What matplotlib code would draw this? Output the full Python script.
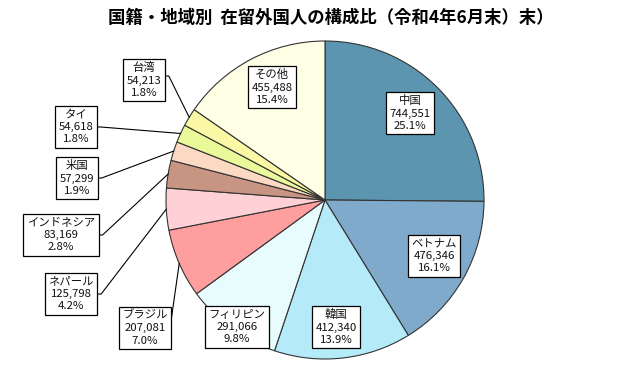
import numpy as np
import matplotlib
matplotlib.use('Agg')
import matplotlib.pyplot as plt

plt.rcParams['font.family'] = ['Noto Sans CJK JP', 'DejaVu Sans']

# data (clockwise from 12 o'clock)
names = ['中国', 'ベトナム', '韓国', 'フィリピン', 'ブラジル', 'ネパール',
         'インドネシア', '米国', 'タイ', '台湾', 'その他']
values = [744551, 476346, 412340, 291066, 207081, 125798,
          83169, 57299, 54618, 54213, 455488]
shares = ['25.1%', '16.1%', '13.9%', '9.8%', '7.0%', '4.2%',
          '2.8%', '1.9%', '1.8%', '1.8%', '15.4%']
colors = ['#5B95B0', '#80AACB', '#B5EAF9', '#E8FBFD', '#FF9E9E', '#FFD1D6',
          '#C99583', '#FCD9C3', '#EAF99A', '#FAF8A4', '#FFFFE6']

# label box centers in pixel coords (from top-left), and whether a leader is drawn
label_pos = [(410, 113), (434, 256), (336, 327), (237, 327), (145, 328), (71, 294),
             (61, 235), (77, 178), (76, 127), (144, 80), (272, 87)]
leader = [False, False, False, False, True, True, True, True, True, True, False]

W, H = 629, 378
fig = plt.figure(figsize=(W / 100, H / 100), dpi=100)
ax = fig.add_axes([0, 0, 1, 1])

cx, cy, r = 325, H - 200, 159
wedges, _ = ax.pie(values, colors=colors, startangle=90, counterclock=False,
                   center=(cx, cy), radius=r, frame=True,
                   wedgeprops=dict(edgecolor='#333333', linewidth=0.8))
ax.set_xlim(0, W)
ax.set_ylim(0, H)
ax.set_aspect('equal')
ax.axis('off')

for i, w in enumerate(wedges):
    lx, ly = label_pos[i][0], H - label_pos[i][1]
    txt = f'{names[i]}\n{values[i]:,}\n{shares[i]}'
    t = ax.text(lx, ly, txt, ha='center', va='center', fontsize=8.2,
                linespacing=1.3, color='#111111', zorder=5,
                bbox=dict(boxstyle='square,pad=0.3', fc='white', ec='black', lw=0.9))
    if leader[i]:
        mid = np.deg2rad((w.theta1 + w.theta2) / 2)
        ex, ey = cx + r * np.cos(mid), cy + r * np.sin(mid)
        fig.canvas.draw()
        bb = t.get_bbox_patch().get_window_extent().transformed(ax.transData.inverted())
        if names[i] == 'ブラジル':
            sx, sy = bb.x1, ly + 8
            ax.plot([sx, ex], [sy, ey], color='black', lw=0.8, zorder=4)
        else:
            sx, sy = bb.x1, ly + 4 if names[i] == '台湾' else ly
            ax.plot([sx, sx + 4, ex], [sy, sy, ey], color='black', lw=0.8, zorder=4)

fig.text(331 / W, 1 - 18 / H, '国籍・地域別  在留外国人の構成比（令和4年6月末）末）',
         ha='center', va='center', fontsize=12.5, fontweight='bold')

fig.savefig('out.png', dpi=100, facecolor='white')
